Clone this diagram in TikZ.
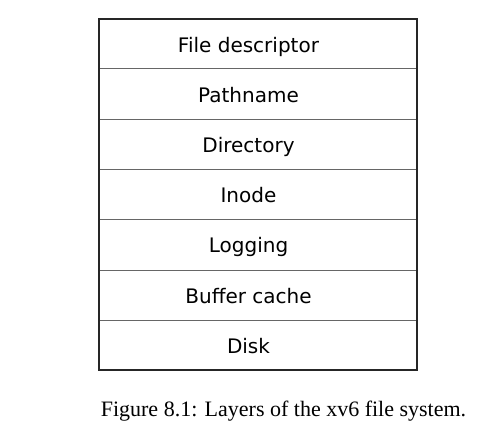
\documentclass[tikz,border=0pt]{standalone}
\usepackage{fontspec}
\setmainfont{Liberation Serif}
\newfontfamily\boxfont{DejaVu Sans}
\begin{document}
\begin{tikzpicture}[x=1pt,y=-1pt,
  layer/.style={font=\boxfont\fontsize{20}{24}\selectfont, inner sep=0pt, anchor=base},
  divider/.style={draw=black!60, line width=0.9pt},
  frame/.style={draw=black!85, line width=1.8pt}]
\useasboundingbox (0,0) rectangle (500,445);
\coordinate (tl) at (99,19);
\coordinate (br) at (417,370);
\foreach \y in {68.5,119,169,219.5,270,320}{
  \draw[divider] (99,\y) -- (417,\y);
}
\draw[frame] (tl) rectangle (br);
\node[layer] (fd) at (248.5,52.5) {File descriptor};
\node[layer] (pn) at (248.5,102.5) {Pathname};
\node[layer] (dir) at (248.5,152.5) {Directory};
\node[layer] (ino) at (248.5,202.8) {Inode};
\node[layer] (log) at (248.5,252.8) {Logging};
\node[layer] (buf) at (248.5,303) {Buffer cache};
\node[layer] (disk) at (248.5,353) {Disk};
\node[font=\fontsize{22}{26}\selectfont, inner sep=0pt, anchor=base] (cap) at (283.5,416) {Figure 8.1: Layers of the xv6 file system.};
\end{tikzpicture}
\end{document}
